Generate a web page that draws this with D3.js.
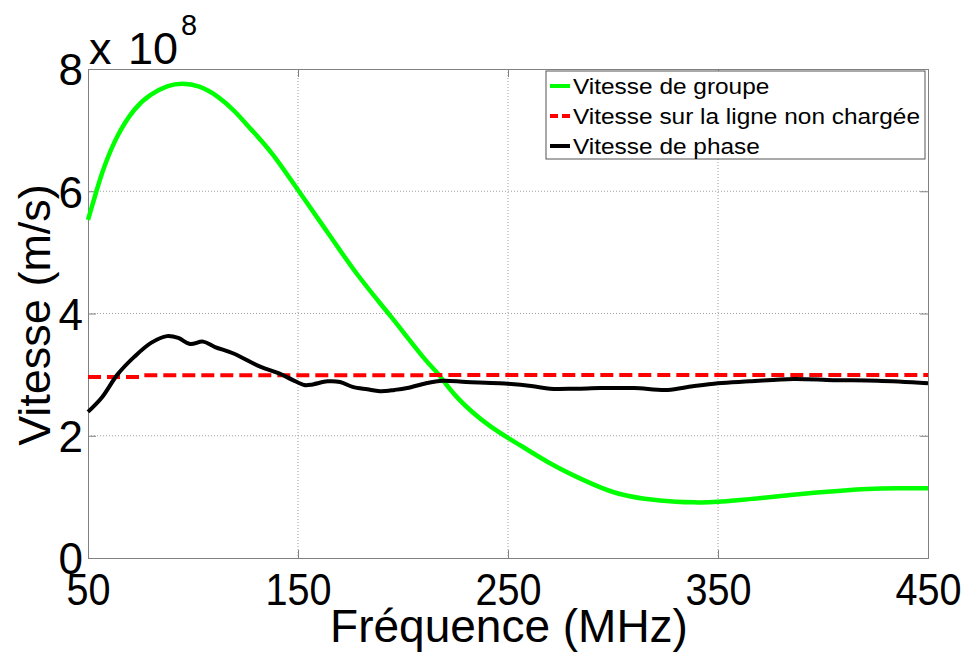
<!DOCTYPE html>
<html><head><meta charset="utf-8">
<script src="https://cdn.jsdelivr.net/npm/d3@7"></script>
<style>body{margin:0;background:#fff}svg{display:block}text{font-family:"Liberation Sans",Arial,sans-serif}</style>
</head><body>
<svg id="c" width="970" height="652"></svg>
<script>
const xTicks = [50,150,250,350,450];
const yTicks = [0,2,4,6,8];
const freqGroup = [50,54,58,64,72,80,88,95,103,112,120,128,138,150,162,178,194,210,217,226,241,256,270,285,300,315,330,340,350,373,397,421,437,450];
const vGroup = [5.53,6.0,6.42,6.9,7.33,7.58,7.72,7.76,7.71,7.54,7.3,7.0,6.6,6.02,5.43,4.65,3.96,3.27,3.0,2.62,2.17,1.84,1.55,1.29,1.08,0.97,0.92,0.91,0.92,0.99,1.07,1.13,1.14,1.14];
const freqLine = [50,75,76,450];
const vLine = [2.96,2.96,2.99,2.995];
const freqPhase = [50,56.7,64,72,80,87.6,93,98.6,104.8,110.5,119,132,141,147.6,153,157,164,170,176,183,189,196,202,211,219,230,246,262,270,282,294,310,326,338,350,365,386,405,426,450];
const vPhase = [2.39,2.63,3.0,3.29,3.52,3.63,3.6,3.5,3.54,3.45,3.35,3.13,3.02,2.91,2.83,2.84,2.89,2.88,2.8,2.76,2.73,2.75,2.78,2.86,2.9,2.88,2.86,2.81,2.77,2.77,2.78,2.78,2.75,2.81,2.86,2.89,2.93,2.91,2.9,2.86];
const legendLabels = ["Vitesse de groupe","Vitesse sur la ligne non chargée","Vitesse de phase"];
const scaleExp = 1e8;

const svg = d3.select("#c");
const L=88,R=928,T=69,B=558;
const x = d3.scaleLinear().domain([50,450]).range([L,R]);
const y = d3.scaleLinear().domain([0,8*scaleExp]).range([B,T]);
const axisCol = "#808080";

// grid
const g = svg.append("g");
xTicks.slice(1,-1).forEach(t=>g.append("line").attr("x1",x(t)).attr("x2",x(t)).attr("y1",T).attr("y2",B)
  .attr("stroke","#a0a0a0").attr("stroke-dasharray","1,2"));
yTicks.slice(1,-1).forEach(t=>g.append("line").attr("x1",L).attr("x2",R).attr("y1",y(t*scaleExp)).attr("y2",y(t*scaleExp))
  .attr("stroke","#a0a0a0").attr("stroke-dasharray","1,2"));

// axes with inward ticks
const ax = d3.axisBottom(x).tickValues(xTicks).tickSize(-8).tickFormat(d3.format("d"));
const xa = svg.append("g").attr("transform",`translate(0,${B})`).call(ax);
xa.selectAll("text").attr("dy",null).attr("y",47).attr("transform","scale(0.88,1)").style("font-size","45px").attr("fill","#000");
svg.append("g").attr("transform",`translate(0,${T})`).call(d3.axisTop(x).tickValues(xTicks).tickSize(-8).tickFormat(""));
const ay = d3.axisLeft(y).tickValues(yTicks.map(v=>v*scaleExp)).tickSize(-8).tickFormat(d=>d/scaleExp);
const ya = svg.append("g").attr("transform",`translate(${L},0)`).call(ay);
ya.selectAll("text").attr("x",-5).attr("dy","0.36em").style("font-size","44px").attr("fill","#000");
svg.append("g").attr("transform",`translate(${R},0)`).call(d3.axisRight(y).tickValues(yTicks.map(v=>v*scaleExp)).tickSize(-8).tickFormat(""));
svg.selectAll(".domain").attr("stroke",axisCol);
svg.selectAll(".tick line").attr("stroke",axisCol);
svg.selectAll(".tick text").attr("font-family","Liberation Sans");

// multiplier
const m = svg.append("text").attr("y",64).style("font-size","45px");
m.append("tspan").attr("x",89).text("x");
m.append("tspan").attr("x",128).text("10");
m.append("tspan").attr("x",181).attr("dy",-29).style("font-size","29px").text("8");

// lines
const line = (fx,fv,c)=>d3.line().curve(c).x((d,i)=>x(fx[i])).y((d,i)=>y(fv[i]*scaleExp))(fx);
svg.append("path").attr("d",line(freqGroup,vGroup,d3.curveNatural)).attr("fill","none").attr("stroke","#00ff00").attr("stroke-width",4.5);
svg.append("path").attr("d",line(freqLine,vLine,d3.curveLinear)).attr("fill","none").attr("stroke","#ff0000").attr("stroke-width",4).attr("stroke-dasharray","13,6");
svg.append("path").attr("d",line(freqPhase,vPhase,d3.curveCatmullRom.alpha(0.5))).attr("fill","none").attr("stroke","#000").attr("stroke-width",4).attr("stroke-linejoin","round");

// axis labels
svg.append("text").attr("x",509).attr("y",642).attr("text-anchor","middle").style("font-size","46px").text("Fréquence (MHz)");
svg.append("text").attr("transform","translate(50,315) rotate(-90)").attr("text-anchor","middle").style("font-size","45px").text("Vitesse (m/s)");

// legend
const lg = svg.append("g");
lg.append("rect").attr("x",546).attr("y",71).attr("width",379).attr("height",88).attr("fill","#fff").attr("stroke","#555").attr("stroke-width",1);
const cols = ["#00ff00","#ff0000","#000"];
const dashes = [null,"8,4",null];
legendLabels.forEach((t,i)=>{
  const cy = 86+i*30;
  lg.append("line").attr("x1",550).attr("x2",570).attr("y1",cy).attr("y2",cy).attr("stroke",cols[i]).attr("stroke-width",4).attr("stroke-dasharray",dashes[i]);
  lg.append("text").attr("x",573).attr("y",cy+8).style("font-size","22px").attr("transform",`translate(573,0) scale(1.11,1) translate(-573,0)`).text(t);
});
</script>
</body></html>
